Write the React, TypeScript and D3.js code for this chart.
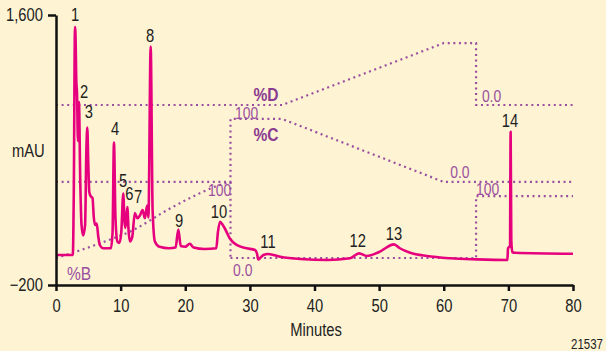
import React, { useEffect, useRef } from "react";
import * as d3 from "d3";

// chromatogram trace: minutes vs mAU
const times = [
  0, 2.6, 2.75, 2.94, 3.0, 3.15, 3.25, 3.4, 3.55, 3.75, 3.95, 4.2, 4.5, 4.7, 4.84,
  5.0, 5.15, 5.4, 5.65, 5.85, 6.05, 6.3, 6.55, 6.8, 7.3, 8.5, 8.75, 8.97, 9.2, 9.5,
  9.8, 10.1, 10.41, 10.6, 10.75, 11.03, 11.25, 11.45, 11.8, 12.2, 12.6, 13.0, 13.4,
  13.75, 14.1, 14.3, 14.65, 14.95, 15.3, 16.0, 17.5, 18.5, 18.93, 19.3, 20.0, 20.7,
  21.3, 23.0, 24.8, 25.05, 25.38, 25.8, 26.15, 26.9, 27.96, 29.5, 30.8, 31.1, 31.3,
  31.6, 32.1, 32.85, 34.7, 37.8, 42, 45.5, 46.9, 48.1, 50, 52.3, 53.2, 54.8, 57.4,
  61, 65.1, 69.85, 69.95, 70.25, 70.35, 70.45, 70.6, 71.0, 80,
];
const absorb = [
  0, 0, 400, 1520, 1490, 1150, 1080, 760, 1020, 500, 200, 130, 200, 700, 850,
  600, 420, 390, 380, 250, 200, 210, 120, 65, 45, 45, 150, 750, 250, 90,
  80, 150, 410, 220, 180, 320, 150, 90, 120, 280, 245, 265, 300,
  245, 330, 250, 1390, 300, 90, 55, 45, 50, 170, 60, 55, 75,
  50, 40, 45, 150, 222, 200, 175, 110, 67, 45, 33, 10, -30,
  -20, 0, 7, -12, -27, -33, -22, 11, -7, 20, 71, 45, 15, -7,
  -22, -29, -33, 45, 60, 822, 100, 20, 15, 8,
];

// peak numbers and where their labels sit (minutes, mAU)
const peakNames = ["1", "2", "3", "4", "5", "6", "7", "8", "9", "10", "11", "12", "13", "14"];
const peakLabelTimes = [2.94, 4.33, 5.1, 9.13, 10.37, 11.37, 12.69, 14.55, 19.03, 25.22, 32.8, 46.7, 52.3, 70.25];
const peakLabelMau = [1560, 1047, 913, 800, 453, 367, 347, 1420, 187, 247, 47, 53, 100, 853];

// gradient program, minutes vs percent
const pctDTimes = [0, 35, 60, 65, 65, 80];
const pctD = [0, 0, 100, 100, 0, 0];
const pctCTimes = [0, 27, 27, 35, 60, 80];
const pctC = [0, 0, 100, 100, 0, 0];
const pctBTimes = [0, 3, 7, 12, 17, 21, 25, 27];
const pctB = [0, 8, 20, 37, 62, 80, 95, 100];
const pctBDropTimes = [27, 27];
const pctBDrop = [100, 0];
const pctBReturnTimes = [27, 65, 65, 80];
const pctBReturn = [0, 0, 100, 100];

// gradient annotations
const gradText = ["%D", "%C", "%B", "100", "100", "0.0", "0.0", "0.0", "100"];
const gradTextTimes = [32.5, 32.5, 1.7, 27.7, 27.1, 27.4, 65.9, 61, 65];
const gradTextMau = [1027, 760, -167, 907, 393, -140, 1020, 513, 400];
const gradTextAnchor = ["middle", "middle", "start", "start", "end", "start", "start", "start", "start"];

const FONT = "'Liberation Sans', Arial, sans-serif";
const NARROW = 0.82; // squeeze to look like a condensed face
const MAGENTA = "#E6007E";
const PURPLE = "#9B4FA0";

const T = ({ x, y, anchor = "start", size = 18, fill = "#222", weight = "normal", children }: any) => (
  <text
    transform={`translate(${x},${y}) scale(${NARROW},1)`}
    textAnchor={anchor}
    fill={fill}
    fontWeight={weight}
    fontFamily={FONT}
    fontSize={size}
  >
    {children}
  </text>
);

const App = () => {
  const xAxisRef = useRef<SVGGElement>(null);
  const yAxisRef = useRef<SVGGElement>(null);

  const x = d3.scaleLinear().domain([0, 80]).range([56, 573]);
  const y = d3.scaleLinear().domain([-200, 1600]).range([285, 15]);

  // each gradient trace gets its own band on the plot (0% and 100% in mAU units)
  const band = (lo: number, hi: number) => d3.scaleLinear().domain([0, 100]).range([y(lo), y(hi)]);
  const bandD = band(1000, 1413);
  const bandC = band(487, 907);
  const bandB = band(-20, 487);
  const bandBReturn = band(-20, 393);

  const trace = d3
    .line<number>()
    .x((_, i) => x(times[i]))
    .y((d) => y(d))
    .curve(d3.curveMonotoneX);

  const gradPath = (ts: number[], ps: number[], s: d3.ScaleLinear<number, number>, curved = false) => {
    const l = d3
      .line<number>()
      .x((_, i) => x(ts[i]))
      .y((d) => s(d));
    if (curved) l.curve(d3.curveMonotoneX);
    return l(ps) || "";
  };

  useEffect(() => {
    const xa = d3.select(xAxisRef.current!);
    xa.call(d3.axisBottom(x).tickValues(d3.range(0, 81, 10)).tickSize(6).tickSizeOuter(0).tickPadding(8));
    const ya = d3.select(yAxisRef.current!);
    ya.call(d3.axisLeft(y).tickValues([-200, 1600]).tickFormat(d3.format(",")).tickSize(8).tickSizeOuter(0).tickPadding(8));
    [xa, ya].forEach((g) => {
      g.selectAll("path.domain").attr("stroke", "#111").attr("stroke-width", 2.5);
      g.selectAll(".tick line").attr("stroke", "#111").attr("stroke-width", 2.5);
      g.selectAll(".tick text")
        .attr("fill", "#222")
        .attr("transform", `scale(${NARROW},1)`)
        .style("font-family", FONT)
        .style("font-size", "18px");
      g.attr("font-family", null).attr("font-size", null);
    });
  }, []);

  const dots = { fill: "none", stroke: PURPLE, strokeWidth: 2.2, strokeDasharray: "2 3.6" };

  return (
    <svg width={606} height={351} style={{ position: "absolute", left: 0, top: 0 }}>
      <rect width={606} height={351} fill="#FEF4D3" />

      <path d={gradPath(pctDTimes, pctD, bandD)} {...dots} />
      <path d={gradPath(pctCTimes, pctC, bandC)} {...dots} />
      <path d={gradPath(pctBTimes, pctB, bandB, true)} {...dots} />
      <path d={gradPath(pctBDropTimes, pctBDrop, bandB)} {...dots} />
      <path d={gradPath(pctBReturnTimes, pctBReturn, bandBReturn)} {...dots} />

      {gradText.map((t, i) => {
        const heading = i < 2;
        return (
          <T
            key={"g" + i}
            x={x(gradTextTimes[i])}
            y={y(gradTextMau[i])}
            anchor={gradTextAnchor[i]}
            fill={heading ? "#8A3A90" : PURPLE}
            weight={heading ? "bold" : "normal"}
            size={t[0] === "%" ? 19 : 17}
          >
            {t}
          </T>
        );
      })}

      <path d={trace(absorb) || ""} fill="none" stroke={MAGENTA} strokeWidth={2.6} strokeLinejoin="round" />

      {peakNames.map((p, i) => (
        <T key={"p" + i} x={x(peakLabelTimes[i])} y={y(peakLabelMau[i])} anchor="middle">
          {p}
        </T>
      ))}

      <g ref={xAxisRef} transform={`translate(0,${y(-200)})`} />
      <g ref={yAxisRef} transform={`translate(${x(0)},0)`} />

      <T x={12} y={157}>mAU</T>
      <T x={316} y={336} anchor="middle">Minutes</T>
      <T x={603} y={349} anchor="end" size={14}>21537</T>
    </svg>
  );
};

export default App;
